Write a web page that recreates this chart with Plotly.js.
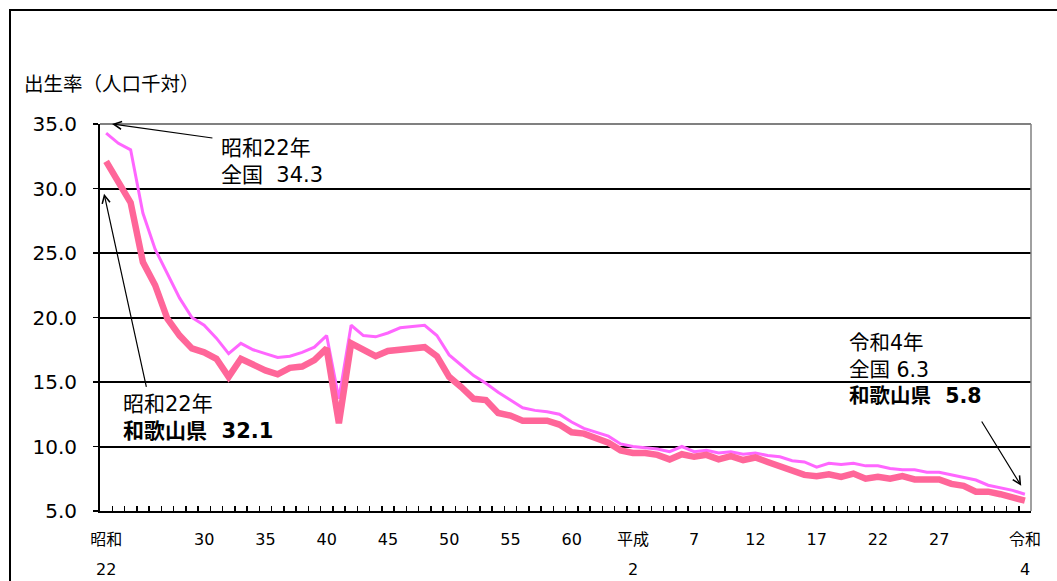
<!DOCTYPE html>
<html>
<head>
<meta charset="utf-8">
<script src="https://cdn.plot.ly/plotly-3.0.1.min.js"></script>
<style>
  html, body { margin: 0; padding: 0; background: #fff; overflow: hidden; }
  #frame { position: absolute; left: 9px; top: 9px; width: 1200px; height: 800px; border: 2px solid #000; }
  #chart { position: absolute; left: 0; top: 0; width: 1057px; height: 581px; }
</style>
</head>
<body>
<div id="frame"></div>
<div id="chart"></div>
<script>
const years = [1947,1948,1949,1950,1951,1952,1953,1954,1955,1956,1957,1958,1959,1960,1961,1962,1963,1964,1965,1966,
  1967,1968,1969,1970,1971,1972,1973,1974,1975,1976,1977,1978,1979,1980,1981,1982,1983,1984,1985,1986,
  1987,1988,1989,1990,1991,1992,1993,1994,1995,1996,1997,1998,1999,2000,2001,2002,2003,2004,2005,2006,
  2007,2008,2009,2010,2011,2012,2013,2014,2015,2016,2017,2018,2019,2020,2021,2022];

const national = [34.3,33.5,33.0,28.1,25.3,23.4,21.5,20.0,19.4,18.4,17.2,18.0,17.5,17.2,16.9,17.0,17.3,17.7,18.6,13.7,
  19.4,18.6,18.5,18.8,19.2,19.3,19.4,18.6,17.1,16.3,15.5,14.9,14.2,13.6,13.0,12.8,12.7,12.5,11.9,11.4,
  11.1,10.8,10.2,10.0,9.9,9.8,9.6,10.0,9.6,9.7,9.5,9.6,9.4,9.5,9.3,9.2,8.9,8.8,8.4,8.7,
  8.6,8.7,8.5,8.5,8.3,8.2,8.2,8.0,8.0,7.8,7.6,7.4,7.0,6.8,6.6,6.3];

const wakayama = [32.1,30.6,28.9,24.3,22.5,19.9,18.6,17.6,17.3,16.8,15.4,16.8,16.3,15.9,15.6,16.1,16.2,16.7,17.6,11.8,
  18.0,17.5,17.0,17.4,17.5,17.5,17.7,17.0,15.4,14.6,13.7,13.6,12.6,12.4,12.0,12.0,12.0,11.7,11.1,11.0,
  10.6,10.3,9.7,9.5,9.5,9.35,9.0,9.4,9.2,9.35,9.0,9.25,8.95,9.15,8.8,8.5,8.1,7.8,7.7,7.85,
  7.65,7.9,7.5,7.65,7.5,7.7,7.45,7.45,7.45,7.1,6.95,6.5,6.5,6.3,6.1,5.8];

const tickYears = [1947,1955,1960,1965,1970,1975,1980,1985,1990,1995,2000,2005,2010,2015,2022];
const tickText = ['昭和','30','35','40','45','50','55','60','平成','7','12','17','22','27','令和'];
const secondLineYears = [1947,1990,2022];
const secondLineText = ['22','2','4'];

const FONT = 'DejaVu Sans, "Noto Sans CJK JP", sans-serif';

const traces = [
  { x: years, y: national, type: 'scatter', mode: 'lines', name: '全国',
    xaxis: 'x', yaxis: 'y', line: { color: '#FF66FF', width: 3 }, hoverinfo: 'skip' },
  { x: years, y: wakayama, type: 'scatter', mode: 'lines', name: '和歌山県',
    xaxis: 'x2', yaxis: 'y', line: { color: '#FF6699', width: 6.5 }, hoverinfo: 'skip' }
];

const annotations = [
  { xref: 'paper', yref: 'paper', x: -0.0838, y: 1.1008, xanchor: 'left', yanchor: 'middle',
    text: '出生率（人口千対）', showarrow: false, font: { family: FONT, size: 19.5, color: '#000' } },
  { xref: 'paper', yref: 'paper', x: 0.128, y: 0.903, xanchor: 'left', yanchor: 'middle', align: 'left',
    text: '昭和22年<br>全国  34.3', showarrow: false, font: { family: FONT, size: 21, color: '#000' } },
  { xref: 'paper', yref: 'paper', x: 0.0225, y: 0.2416, xanchor: 'left', yanchor: 'middle', align: 'left',
    text: '昭和22年<br><b>和歌山県  32.1</b>', showarrow: false, font: { family: FONT, size: 21, color: '#000' } },
  { xref: 'paper', yref: 'paper', x: 0.802, y: 0.365, xanchor: 'left', yanchor: 'middle', align: 'left',
    text: '令和4年<br>全国 6.3<br><b>和歌山県  5.8</b>', showarrow: false, font: { family: FONT, size: 20.5, color: '#000' } },
  { xref: 'x', yref: 'y', axref: 'x', ayref: 'y', x: 1947.48, y: 35.0, ax: 1955.8, ay: 33.9, text: '',
    showarrow: true, arrowhead: 5, arrowsize: 1.3, arrowwidth: 1.2, arrowcolor: '#000' },
  { xref: 'x', yref: 'y', axref: 'x', ayref: 'y', x: 1946.83, y: 29.6, ax: 1950.31, ay: 14.5, text: '',
    showarrow: true, arrowhead: 5, arrowsize: 1.3, arrowwidth: 1.2, arrowcolor: '#000' },
  { xref: 'x', yref: 'y', axref: 'x', ayref: 'y', x: 2021.7, y: 6.96, ax: 2018.4, ay: 12.05, text: '',
    showarrow: true, arrowhead: 5, arrowsize: 1.3, arrowwidth: 1.2, arrowcolor: '#000' }
];
secondLineYears.forEach((yr, i) => {
  annotations.push({ xref: 'x', yref: 'paper', x: yr, y: -0.152, xanchor: 'center', yanchor: 'middle',
    text: secondLineText[i], showarrow: false, font: { family: FONT, size: 16, color: '#000' } });
});

const layout = {
  width: 1057, height: 581,
  margin: { l: 100, r: 26, t: 124, b: 70 },
  paper_bgcolor: 'rgba(0,0,0,0)', plot_bgcolor: '#fff',
  showlegend: false,
  font: { family: FONT, color: '#000' },
  xaxis: {
    type: 'linear', range: [1946.5, 2022.5], fixedrange: true,
    tickmode: 'array', tickvals: tickYears, ticktext: tickText,
    ticks: '', showgrid: false, zeroline: false,
    showline: true, linecolor: '#000', linewidth: 2,
    tickfont: { family: FONT, size: 16, color: '#000' }, ticklabelstandoff: 13
  },
  xaxis2: {
    type: 'linear', range: [1946.5, 2022.5], overlaying: 'x', anchor: 'y', side: 'bottom',
    tickmode: 'linear', tick0: 1946.5, dtick: 1, ticks: 'inside', ticklen: 5, tickwidth: 1.5, tickcolor: '#000',
    showticklabels: false, showgrid: false, zeroline: false, showline: false
  },
  yaxis: {
    range: [5, 35], tickmode: 'linear', tick0: 5, dtick: 5, tickformat: '.1f',
    showgrid: true, gridcolor: '#000', gridwidth: 2, zeroline: false,
    showline: true, linecolor: '#000', linewidth: 2,
    ticks: 'outside', ticklen: 5, tickwidth: 1.5, tickcolor: '#000',
    tickfont: { family: FONT, size: 20, color: '#000' }, ticklabelstandoff: 12
  },
  shapes: [
    { type: 'line', xref: 'paper', yref: 'paper', x0: 0, x1: 1, y0: 1, y1: 1, line: { color: '#808080', width: 2 }, layer: 'above' },
    { type: 'line', xref: 'paper', yref: 'paper', x0: 1, x1: 1, y0: 0, y1: 1, line: { color: '#808080', width: 1.5 }, layer: 'above' }
  ],
  annotations: annotations
};

Plotly.newPlot('chart', traces, layout, { staticPlot: true, displayModeBar: false });
</script>
</body>
</html>
